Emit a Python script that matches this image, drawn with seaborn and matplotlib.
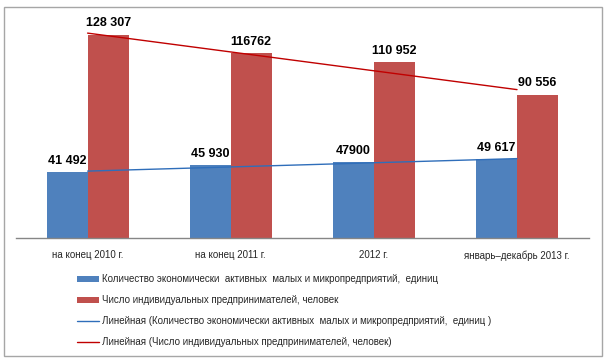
import numpy as np
import pandas as pd
import matplotlib
matplotlib.use("Agg")
import matplotlib.pyplot as plt
from matplotlib.patches import Rectangle
import seaborn as sns

categories = ["на конец 2010 г.", "на конец 2011 г.", "2012 г.", "январь–декабрь 2013 г."]
enterprises = [41492, 45930, 47900, 49617]
entrepreneurs = [128307, 116762, 110952, 90556]
enterprise_labels = ["41 492", "45 930", "47900", "49 617"]
entrepreneur_labels = ["128 307", "116762", "110 952", "90 556"]
series_names = [
    "Количество экономически  активных  малых и микропредприятий,  единиц",
    "Число индивидуальных предпринимателей, человек",
]
trend_names = [
    "Линейная (Количество экономически активных  малых и микропредприятий,  единиц )",
    "Линейная (Число индивидуальных предпринимателей, человек)",
]

sns.set_style("white")
plt.rcParams['font.family'] = ['Liberation Sans', 'DejaVu Sans']

df = pd.DataFrame({
    "cat": categories * 2,
    "val": enterprises + entrepreneurs,
    "series": [series_names[0]] * 4 + [series_names[1]] * 4,
})

W, H = 608, 363
fig = plt.figure(figsize=(W / 100, H / 100), dpi=100)
ax = fig.add_axes([16 / W, (H - 238) / H, (588.6 - 16) / W, (238 - 16.5) / H])

blue, red = "#4F81BD", "#C0504D"
sns.barplot(data=df, x="cat", y="val", hue="series", order=categories,
            hue_order=series_names, palette=[blue, red], width=0.573,
            gap=0, saturation=1, legend=False, linewidth=0, ax=ax)

ax.set_ylim(0, 140000)
ax.set_xlim(-0.5, len(categories) - 0.5)
ax.set_xlabel("")
ax.set_ylabel("")

# data labels
for cont, labs in zip(ax.containers, [enterprise_labels, entrepreneur_labels]):
    ax.bar_label(cont, labels=labs, fontsize=9, fontweight="bold",
                 color="#000000", padding=4)

# linear trend lines
xs = np.arange(len(categories))
trend_lines = []
for vals, col in zip([enterprises, entrepreneurs], ["#2F6EBA", "#C00000"]):
    k, b = np.polyfit(xs, vals, 1)
    ln, = ax.plot(xs, k * xs + b, color=col, lw=1)
    trend_lines.append(ln)

# axes styling
for s in ["top", "right", "left"]:
    ax.spines[s].set_visible(False)
ax.spines["bottom"].set_color("#868686")
ax.spines["bottom"].set_linewidth(1)
ax.set_yticks([])
ax.set_xticks(xs)
ax.set_xticklabels(categories, fontsize=7, color="#262626")
ax.tick_params(axis="x", which="major", length=0, pad=9)
ax.set_xticks(np.arange(-0.5, len(categories)), minor=True)
ax.tick_params(axis="x", which="minor", length=5, color="#868686", width=1)

# legend
handles = [ax.containers[0], ax.containers[1]] + trend_lines
labels = series_names + trend_names
fig.legend(handles, labels, loc="upper left",
           bbox_to_anchor=(77 / W, (H - 274.5) / H), frameon=False,
           fontsize=7, labelcolor="#262626", handlelength=2.3,
           handleheight=0.55, handletextpad=0.3, labelspacing=1.13,
           borderpad=0, borderaxespad=0)

# outer chart border
fig.patches.append(Rectangle((4 / W, 7 / H), 598 / W, 349 / H,
                             transform=fig.transFigure, fill=False,
                             edgecolor="#A6A6A6", lw=1))

fig.savefig("out.png", dpi=100)
